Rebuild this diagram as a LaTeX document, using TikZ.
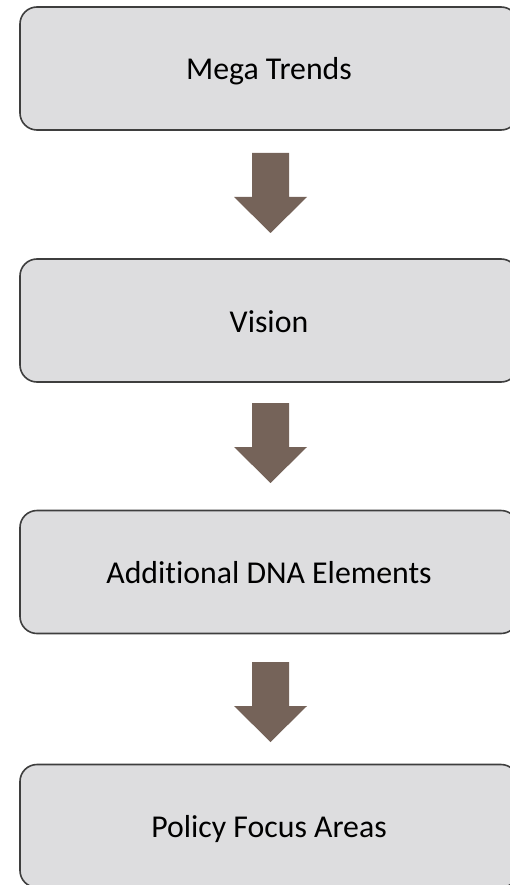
\documentclass[tikz,border=0pt]{standalone}
\usepackage{fontspec}
\setmainfont{Carlito}[Ligatures=NoCommon]
\usetikzlibrary{calc}
\definecolor{boxgray}{RGB}{221,221,223}
\definecolor{boxline}{RGB}{62,62,62}
\definecolor{arrowbrown}{RGB}{117,99,89}
\begin{document}
\begin{tikzpicture}[x=1pt,y=-1pt]
      \tikzstyle{stage} = [draw=boxline, line width=1.6pt, fill=boxgray,
                           rounded corners=17pt, minimum width=498pt,
                           minimum height=123pt, inner sep=0pt,
                           text height=23pt, text depth=0pt,
                           font=\fontsize{31.8}{38}\selectfont]
      \tikzstyle{flow} = [fill=arrowbrown]

      \useasboundingbox (0,0) rectangle (510,885);

      \node[stage] (trends) at (269,68.5) {Mega Trends};
      \node[stage] (vision) at (269,320.5) {Vision};
      \node[stage] (dna)    at (269,572)   {Additional DNA Elements};
      \node[stage] (policy) at (269,826)   {Policy Focus Areas};

      % block arrows between the stages
      \foreach \name/\top in {a1/153, a2/403, a3/662} {
        \coordinate (\name) at (270.5,\top);
        \fill[flow] ($(\name)+(-18.5,0)$) -- ($(\name)+(18.5,0)$)
          -- ($(\name)+(18.5,44)$) -- ($(\name)+(36.5,44)$)
          -- ($(\name)+(0,80)$) -- ($(\name)+(-36.5,44)$)
          -- ($(\name)+(-18.5,44)$) -- cycle;
      }
\end{tikzpicture}
\end{document}
